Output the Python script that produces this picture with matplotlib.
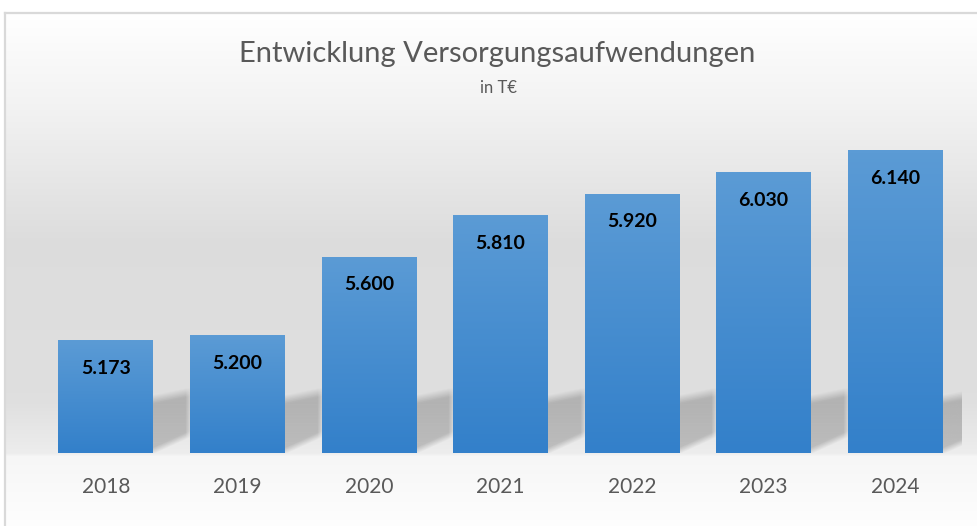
import matplotlib.pyplot as plt
import numpy as np
from matplotlib.colors import LinearSegmentedColormap

years = ['2018', '2019', '2020', '2021', '2022', '2023', '2024']
values = [5173, 5200, 5600, 5810, 5920, 6030, 6140]
labels = ['5.173', '5.200', '5.600', '5.810', '5.920', '6.030', '6.140']

W, H = 977, 526
fig = plt.figure(figsize=(W / 100, H / 100), dpi=100)

# background gradient (white -> light gray -> white)
bg = fig.add_axes([0, 0, 1, 1], zorder=0)
rows = np.arange(H)
stops_y = [0, 12, 100, 240, 400, 453, 456, 526]
stops_g = [1.0, 1.0, 0.955, 0.865, 0.875, 0.93, 0.965, 0.995]
grad = np.interp(rows, stops_y, stops_g)
img = np.repeat(grad[:, None], W, axis=1)
img = np.dstack([img, img, img])
img[:12, :, :] = 1.0
img[:, :4, :] = 1.0
bg.imshow(img, extent=(0, W, H, 0), aspect='auto')
bg.plot([4.5, 4.5], [H, 12.5], color='#d9d9d9', lw=1.6)
bg.plot([4.5, W], [12.5, 12.5], color='#d9d9d9', lw=1.6)
bg.set_xlim(0, W)
bg.set_ylim(H, 0)
bg.axis('off')

ax = fig.add_axes([40 / W, (H - 453) / H, (961 - 40) / W, (453 - 119) / H], zorder=1)
ax.patch.set_alpha(0)

x = np.arange(len(years))
bw = 0.72
ymin, ymax = 4600, 6300

cmap = LinearSegmentedColormap.from_list('bar', ['#3380ca', '#5b9bd5'])
grad_bar = np.linspace(0, 1, 100)[:, None]

# soft shadows behind the bars
px_x = len(years) / (961 - 40)
px_y = (ymax - ymin) / (453 - 119)
dx = np.arange(-5, 50)[None, :] + 0.5
dy = np.arange(0, 80)[:, None] + 0.5
bottom = 2 + 0.45 * dx
top = 53 + 0.2 * dx
a = (np.clip((dy - bottom) / 7 + 0.5, 0, 1)
     * np.clip((top - dy) / 9 + 0.5, 0, 1)
     * np.clip((36 - dx) / 7 + 0.5, 0, 1))
shadow = np.zeros((80, 55, 4))
shadow[..., 3] = 0.2 * a
for xi, v in zip(x, values):
    r = xi + bw / 2
    ax.imshow(shadow, origin='lower', aspect='auto', interpolation='bilinear',
              extent=(r - 5 * px_x, r + 50 * px_x, ymin, ymin + 80 * px_y),
              zorder=1)

bars = ax.bar(x, values, width=bw, bottom=0, color='none', zorder=2)
for b, xi, v in zip(bars, x, values):
    im = ax.imshow(grad_bar, cmap=cmap, origin='lower', aspect='auto',
                   extent=(xi - bw / 2, xi + bw / 2, ymin, v), zorder=2)
    im.set_clip_path(b)

ax.set_xlim(-0.5, len(years) - 0.5)
ax.set_ylim(ymin, ymax)

for xi, v, lab in zip(x, values, labels):
    ax.annotate(lab, (xi, v), xytext=(0, -28 * 0.72), textcoords='offset points',
                ha='center', va='center', fontsize=14, fontweight='bold',
                family='Lato', color='#000000', zorder=3)

ax.set_xticks(x)
ax.set_xticklabels(years, fontsize=15, family='Lato', color='#595959')
ax.tick_params(axis='x', length=0, pad=24 * 0.72)
ax.set_yticks([])
for sp in ax.spines.values():
    sp.set_visible(False)

fig.text(497 / W, 1 - 54 / H, 'Entwicklung Versorgungsaufwendungen',
         ha='center', va='center', fontsize=21, family='Lato',
         color='#595959')
fig.text(498 / W, 1 - 88 / H, 'in T€', ha='center', va='center',
         fontsize=12, family='Lato', color='#595959')

fig.savefig('out.png', dpi=100)
